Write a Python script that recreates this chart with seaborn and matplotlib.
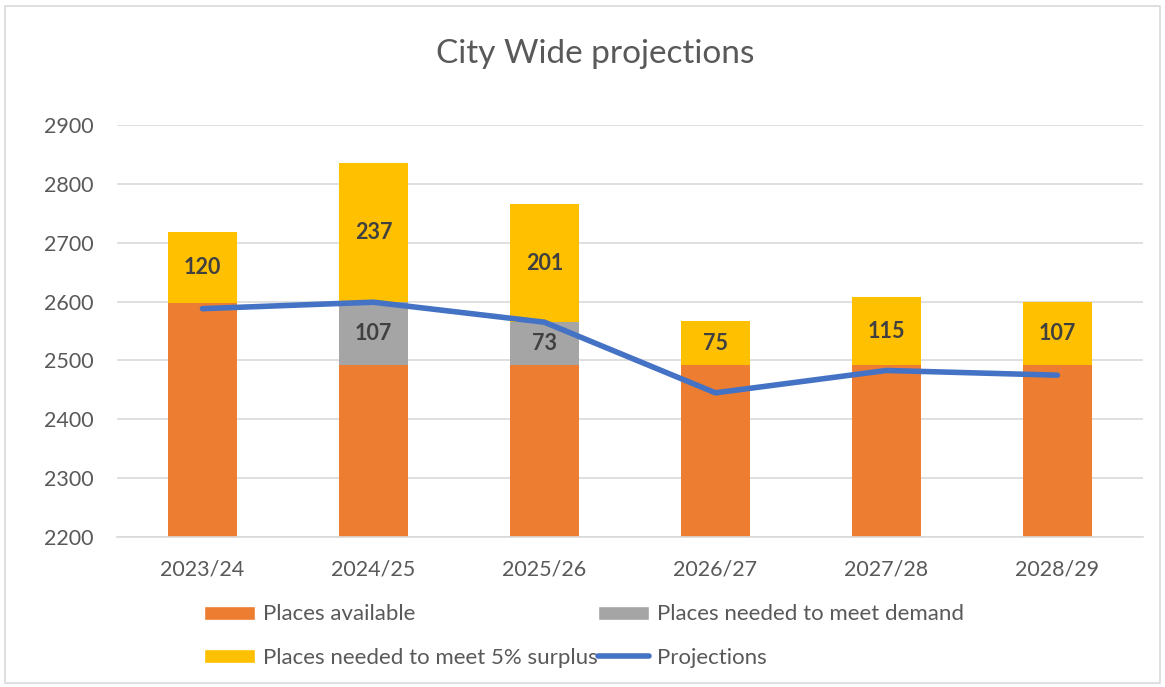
import matplotlib
matplotlib.use("Agg")
import matplotlib.pyplot as plt
import seaborn as sns
import pandas as pd
from matplotlib.patches import Rectangle
from matplotlib.lines import Line2D

years = ["2023/24", "2024/25", "2025/26", "2026/27", "2027/28", "2028/29"]
available = [2598, 2492, 2492, 2492, 2492, 2492]
demand = [0, 107, 73, 0, 0, 0]
surplus = [120, 237, 201, 75, 115, 107]
projections = [2588, 2599, 2565, 2445, 2483, 2475]

ORANGE = "#ED7D31"
GREY = "#A5A5A5"
YELLOW = "#FFC000"
BLUE = "#4472C4"
TXT = "#595959"

df = pd.DataFrame({"year": years, "available": available, "demand": demand,
                   "surplus": surplus, "proj": projections})
df["base2"] = df["available"] + df["demand"]

sns.set_style("white")
plt.rcParams["font.family"] = ["Lato", "DejaVu Sans"]

fig = plt.figure(figsize=(11.65, 6.87), dpi=100)
fig.patches.append(Rectangle((0.004, 0.006), 0.992, 0.985, transform=fig.transFigure,
                             fill=False, edgecolor="#D9D9D9", linewidth=1.2))
ax = fig.add_axes([0.1004, 0.2183, 0.8806, 0.5997])

bar_kw = dict(width=0.4, saturation=1, ax=ax, zorder=2, linewidth=0, edgecolor="none")
sns.barplot(data=df, x="year", y="available", color=ORANGE, **bar_kw)
sns.barplot(data=df, x="year", y="demand", bottom=df["available"], color=GREY, **bar_kw)
sns.barplot(data=df, x="year", y="surplus", bottom=df["base2"], color=YELLOW, **bar_kw)
sns.lineplot(data=df, x="year", y="proj", color=BLUE, linewidth=4, ax=ax,
             zorder=3, sort=False)

for i, r in df.iterrows():
    if r["demand"] > 0:
        ax.text(i, r["available"] + r["demand"] / 2, f"{r['demand']:.0f}",
                ha="center", va="center", fontsize=15.5, fontweight="bold",
                color="#404040", zorder=4)
    ax.text(i, r["base2"] + r["surplus"] / 2, f"{r['surplus']:.0f}",
            ha="center", va="center", fontsize=15.5, fontweight="bold",
            color="#404040", zorder=4)

ax.set_ylim(2200, 2900)
ax.set_xlim(-0.5, 5.5)
ax.set_yticks(range(2200, 3000, 100))
ax.yaxis.grid(True, color="#D9D9D9", linewidth=1.2, zorder=0)
ax.set_axisbelow(True)
for s in ["top", "right", "left"]:
    ax.spines[s].set_visible(False)
ax.spines["bottom"].set_color("#D9D9D9")
ax.spines["bottom"].set_linewidth(1.2)
ax.tick_params(axis="both", length=0, labelsize=15.5, colors=TXT)
ax.tick_params(axis="x", pad=16)
ax.tick_params(axis="y", pad=17)
ax.set_xlabel("")
ax.set_ylabel("")

fig.text(0.511, 0.922, "City Wide projections", ha="center", va="center",
         fontsize=24, color=TXT)

handles = [
    Rectangle((0, 0), 1, 1, facecolor=ORANGE),
    Rectangle((0, 0), 1, 1, facecolor=YELLOW),
    Rectangle((0, 0), 1, 1, facecolor=GREY),
    Line2D([0], [0], color=BLUE, linewidth=4),
]
labels = ["Places available", "Places needed to meet 5% surplus",
          "Places needed to meet demand", "Projections"]
fig.legend(handles, labels, ncol=2, loc="center left",
           bbox_to_anchor=(0.158, 0.074), frameon=False, fontsize=16,
           labelcolor=TXT, handlelength=2.3, handleheight=0.6,
           handletextpad=0.35, columnspacing=0.0, labelspacing=1.05)

fig.savefig("out.png", dpi=100)
